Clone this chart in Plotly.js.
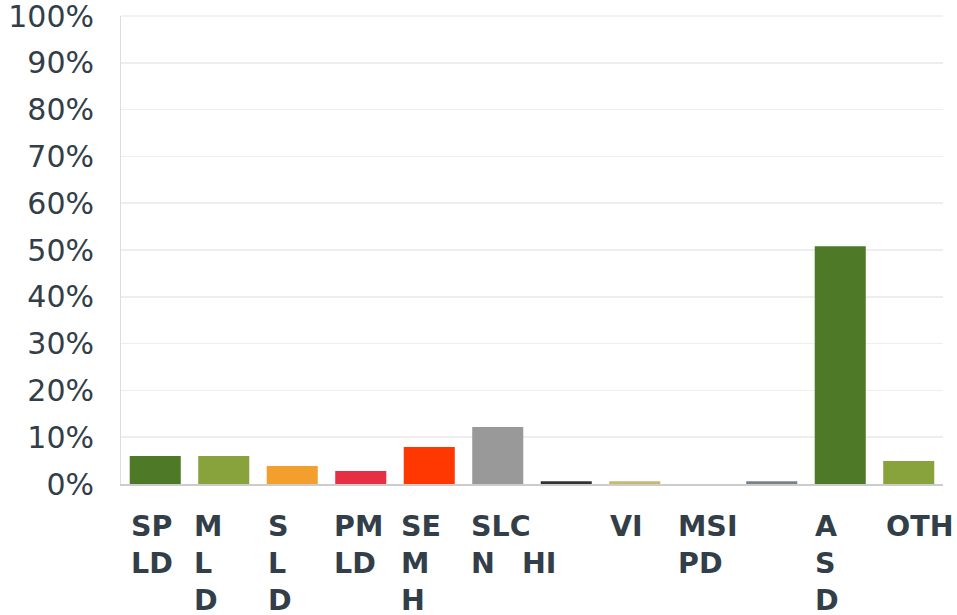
<!DOCTYPE html>
<html>
<head>
<meta charset="utf-8">
<script src="https://cdn.plot.ly/plotly-3.0.1.min.js"></script>
<style>html,body{margin:0;padding:0;background:#fff;}#chart{width:957px;height:615px;}</style>
</head>
<body>
<div id="chart"></div>
<script>
// Data
const categories = ["SPLD","MLD","SLD","PMLD","SEMH","SLCN","HI","VI","MSI","PD","ASD","OTH"];
const values = [6.0, 6.0, 3.85, 2.8, 7.9, 12.2, 0.6, 0.6, 0, 0.6, 50.8, 4.9];
const tickLabels = ["SP<br>LD","M<br>L<br>D","S<br>L<br>D","PM<br>LD","SE<br>M<br>H","SLC<br>N","&nbsp;<br>HI","VI","MSI<br>PD","","A<br>S<br>D","OTH"];
const barColors = ["#4e7a27","#88a23c","#f29f2e","#e62e45","#ff3700","#999999","#333333","#c8b870","#999999","#78828a","#4e7a27","#88a23c"];
const labelShift = [-26,-32,-26,-29,-30,-29,-46,-27,-27,0,-27,-25];

const textColor = "#323e48";
const fontFam = "DejaVu Sans, Liberation Sans, Arial, sans-serif";

const annotations = [];
categories.forEach((c, i) => {
  if (tickLabels[i] === "") return;
  annotations.push({
    x: c, xref: "x", y: 0, yref: "paper",
    xanchor: "left", yanchor: "top", align: "left",
    xshift: labelShift[i], yshift: -24,
    text: "<b>" + tickLabels[i] + "</b>",
    showarrow: false,
    font: {family: fontFam, size: 28.5, color: textColor}
  });
});

const trace = {
  type: "bar",
  x: categories,
  y: values,
  marker: {color: barColors},
  hoverinfo: "none"
};

const layout = {
  width: 957, height: 615,
  margin: {l: 121, r: 14, t: 16, b: 131},
  paper_bgcolor: "#ffffff", plot_bgcolor: "#ffffff",
  bargap: 0.255,
  showlegend: false,
  xaxis: {
    type: "category",
    range: [-0.5, 11.5],
    showticklabels: false,
    showgrid: false,
    showline: true, linecolor: "#cccccc", linewidth: 2,
    ticks: "", zeroline: false, fixedrange: true
  },
  yaxis: {
    range: [0, 100],
    dtick: 10, tick0: 0,
    ticksuffix: "%",
    showgrid: true, gridcolor: "#eeeeee", gridwidth: 1.5,
    showline: true, linecolor: "#dddddd", linewidth: 1,
    zeroline: false,
    ticks: "", ticklabelstandoff: 20,
    ticklabeloverflow: "allow",
    tickfont: {family: fontFam, size: 30, color: textColor},
    fixedrange: true
  },
  shapes: [{
    type: "line", xref: "paper", yref: "paper",
    x0: 0, x1: 1, y0: 1, y1: 1,
    line: {color: "#eeeeee", width: 1.5}, layer: "below"
  }],
  annotations: annotations
};

Plotly.newPlot("chart", [trace], layout, {displayModeBar: false, staticPlot: true});
</script>
</body>
</html>
